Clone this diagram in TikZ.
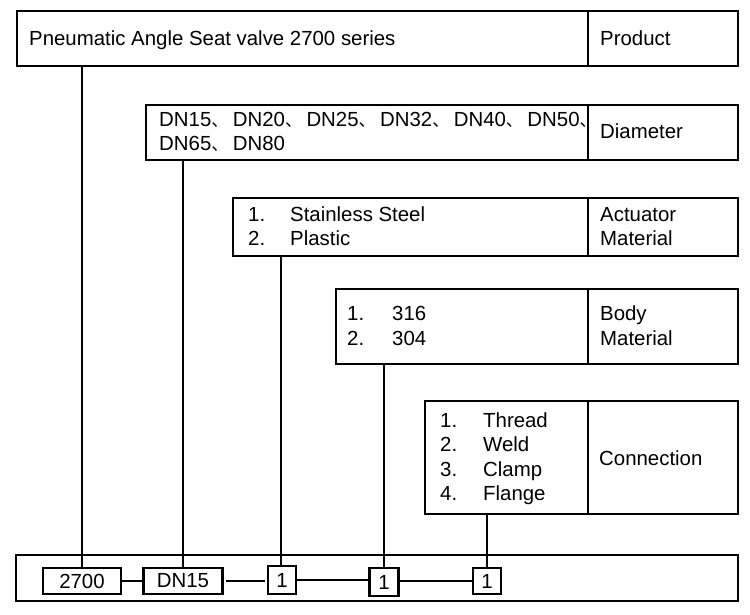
\documentclass[tikz,border=0pt]{standalone}
\usepackage{fontspec}
\setmainfont{Liberation Sans}
\newfontfamily\cjk{Noto Sans CJK SC}
\newcommand\dun{\makebox[21.5pt][l]{\cjk\fontsize{17pt}{20pt}\selectfont 、}}
\begin{document}
\begin{tikzpicture}[x=1pt,y=-1pt,
  cell/.style={draw, line width=2.4pt, inner sep=0pt, outer sep=0pt, anchor=north west},
  link/.style={line width=2pt},
  lbl/.style={anchor=base west, inner sep=0pt, font=\fontsize{20.4pt}{24.5pt}\selectfont},
  inbox/.style={draw, line width=2.2pt, inner sep=0pt, outer sep=0pt, anchor=center,
    font=\fontsize{20.4pt}{24pt}\selectfont}]
\useasboundingbox[fill=white] (0,0) rectangle (750,615);

% rows of cells
\node[cell, minimum width=571pt, minimum height=55pt] (topL) at (17,11) {};
\node[cell, minimum width=150pt, minimum height=55pt] (topR) at (588,11) {};
\node[cell, minimum width=442pt, minimum height=55pt] (diaL) at (146,105) {};
\node[cell, minimum width=150pt, minimum height=55pt] (diaR) at (588,105) {};
\node[cell, minimum width=355pt, minimum height=58pt] (actL) at (233,198) {};
\node[cell, minimum width=150pt, minimum height=58pt] (actR) at (588,198) {};
\node[cell, minimum width=252pt, minimum height=75pt] (bodL) at (336,289) {};
\node[cell, minimum width=150pt, minimum height=75pt] (bodR) at (588,289) {};
\node[cell, minimum width=163pt, minimum height=113pt] (conL) at (425,401) {};
\node[cell, minimum width=150pt, minimum height=113pt] (conR) at (588,401) {};
\node[cell, minimum width=722pt, minimum height=46pt] (code) at (16,555) {};

% texts
\node[lbl] (t1) at (29,45.5) {Pneumatic Angle Seat valve 2700 series};
\node[lbl] (t1r) at (600,45.5) {Product};
\node[lbl] (t2a) at (159,127) {DN15\dun DN20\dun DN25\dun DN32\dun DN40\dun DN50\dun};
\node[lbl] (t2b) at (159,151) {DN65\dun DN80};
\node[lbl] (t2r) at (600,139) {Diameter};
\node[lbl] (t3n1) at (248,221) {1.};
\node[lbl] (t3a) at (290,221) {Stainless Steel};
\node[lbl] (t3n2) at (248,245) {2.};
\node[lbl] (t3b) at (290,245) {Plastic};
\node[lbl] (t3r1) at (600,221) {Actuator};
\node[lbl] (t3r2) at (600,245) {Material};
\node[lbl] (t4n1) at (347,320.5) {1.};
\node[lbl] (t4a) at (392,320.5) {316};
\node[lbl] (t4n2) at (347,345) {2.};
\node[lbl] (t4b) at (392,345) {304};
\node[lbl] (t4r1) at (600,320.5) {Body};
\node[lbl] (t4r2) at (600,345) {Material};
\node[lbl] (t5n1) at (440,427) {1.};
\node[lbl] (t5a) at (483,427) {Thread};
\node[lbl] (t5n2) at (440,451.5) {2.};
\node[lbl] (t5b) at (483,451.5) {Weld};
\node[lbl] (t5n3) at (440,476) {3.};
\node[lbl] (t5c) at (483,476) {Clamp};
\node[lbl] (t5n4) at (440,500.5) {4.};
\node[lbl] (t5d) at (483,500.5) {Flange};
\node[lbl] (t5r) at (599,465) {Connection};

% code boxes
\node[inbox, minimum width=78pt, minimum height=26pt] (b0) at (82,581) {2700};
\node[inbox, minimum width=79pt, minimum height=26pt] (bd) at (183,581) {DN15};
\node[inbox, minimum width=28pt, minimum height=28pt] (b1) at (282,580) {1};
\node[inbox, minimum width=29pt, minimum height=28pt] (b2) at (384,582) {1};
\node[inbox, minimum width=28pt, minimum height=26pt] (b3) at (487,581) {1};

% vertical links
\draw[link] (b0.north) -- (b0.north |- topL.south);
\draw[link] (bd.north) -- (bd.north |- diaL.south);
\draw[link] ([xshift=-1pt]b1.north) -- ([xshift=-1pt]b1.north |- actL.south);
\draw[link] (b2.north) -- (b2.north |- bodL.south);
\draw[link] (b3.north) -- (b3.north |- conL.south);

% horizontal links
\draw[link] (b0.east) -- (bd.west);
\draw[link, shorten <=3.5pt, shorten >=3.5pt] (bd.east) -- (bd.east -| b1.west);
\draw[link] (b1.east) -- (b1.east -| b2.west);
\draw[link] (b3.west -| b2.east) -- (b3.west);
\end{tikzpicture}
\end{document}
